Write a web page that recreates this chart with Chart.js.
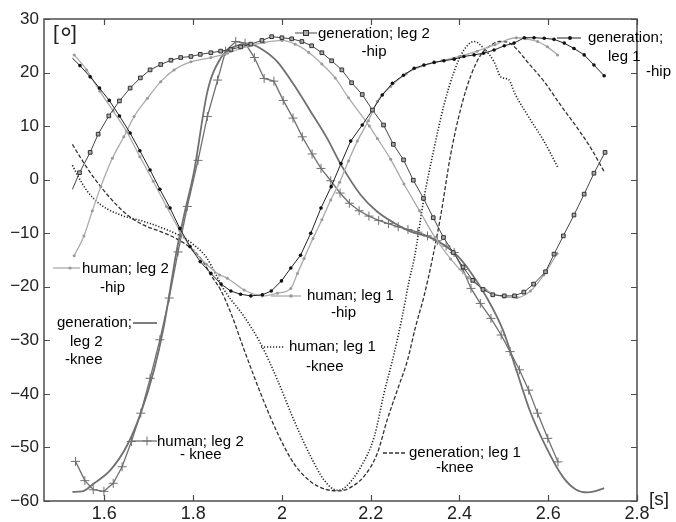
<!DOCTYPE html>
<html>
<head>
<meta charset="utf-8">
<title>Joint angles</title>
<script src="https://cdn.jsdelivr.net/npm/chart.js@4.4.1/dist/chart.umd.min.js"></script>
<style>
    html, body { margin: 0; padding: 0; background: #fff; }
</style>
</head>
<body>
<canvas id="jointChart" width="676" height="522"></canvas>
<script>
// Tick labels
const xTicks = [1.6, 1.8, 2.0, 2.2, 2.4, 2.6, 2.8];
const yTicks = [-60, -50, -40, -30, -20, -10, 0, 10, 20, 30];

// generation; leg 2 -hip (squares)
const genLeg2HipT = [1.528, 1.544, 1.568, 1.586, 1.610, 1.634, 1.658, 1.681, 1.703, 1.727, 1.750, 1.772, 1.795, 1.816, 1.840, 1.862, 1.885, 1.907, 1.930, 1.955, 1.977, 2.000, 2.022, 2.045, 2.067, 2.090, 2.112, 2.135, 2.157, 2.181, 2.204, 2.229, 2.251, 2.274, 2.296, 2.319, 2.341, 2.364, 2.386, 2.408, 2.430, 2.453, 2.475, 2.501, 2.524, 2.545, 2.567, 2.594, 2.613, 2.634, 2.658, 2.681, 2.703, 2.728];
const genLeg2HipV = [-1.8, 1.3, 5.1, 8.5, 11.9, 14.7, 17.1, 19.0, 20.5, 21.5, 22.3, 22.8, 23.0, 23.4, 23.7, 24.0, 24.3, 24.8, 25.3, 26.0, 26.7, 26.5, 26.3, 25.8, 25.0, 23.7, 22.2, 20.5, 18.1, 15.9, 13.0, 10.2, 6.6, 3.7, -0.1, -3.5, -7.1, -10.8, -13.6, -16.3, -18.8, -20.5, -21.5, -21.7, -21.7, -21.0, -19.5, -17.2, -13.9, -10.5, -6.6, -2.7, 1.2, 5.1];

// generation; leg 1 -hip (dots)
const genLeg1HipT = [1.528, 1.545, 1.568, 1.589, 1.611, 1.634, 1.658, 1.680, 1.703, 1.725, 1.748, 1.770, 1.793, 1.816, 1.840, 1.863, 1.885, 1.907, 1.930, 1.956, 1.976, 1.999, 2.020, 2.042, 2.065, 2.088, 2.111, 2.133, 2.155, 2.181, 2.204, 2.226, 2.249, 2.274, 2.298, 2.320, 2.343, 2.365, 2.388, 2.410, 2.433, 2.454, 2.478, 2.501, 2.523, 2.546, 2.568, 2.591, 2.613, 2.636, 2.658, 2.681, 2.703, 2.726];
const genLeg1HipV = [22.7, 21.3, 19.2, 17.1, 14.8, 11.9, 8.7, 5.4, 1.8, -1.8, -5.3, -9.1, -12.5, -15.3, -17.5, -19.5, -20.8, -21.4, -21.7, -21.5, -20.8, -18.9, -16.5, -14.1, -10.0, -5.3, -1.3, 3.0, 7.2, 10.2, 13.0, 15.8, 18.0, 19.5, 20.8, 21.4, 21.9, 22.2, 22.5, 23.0, 23.3, 23.6, 24.2, 25.0, 25.5, 26.5, 26.5, 26.4, 26.2, 25.5, 24.5, 23.3, 21.4, 19.4];

// human; leg 2 -hip
const humLeg2HipT = [1.532, 1.554, 1.573, 1.592, 1.618, 1.644, 1.667, 1.697, 1.727, 1.757, 1.795, 1.840, 1.877, 1.926, 1.960, 2.000, 2.030, 2.060, 2.090, 2.120, 2.150, 2.197, 2.215, 2.245, 2.275, 2.310, 2.345, 2.380, 2.420, 2.460, 2.500, 2.530, 2.560, 2.590, 2.620];
const humLeg2HipV = [-14.2, -10.5, -5.8, -1.3, 4.0, 8.0, 11.8, 15.2, 18.3, 20.5, 22.0, 22.8, 23.6, 25.0, 25.6, 26.0, 25.3, 23.8, 21.6, 19.0, 15.3, 10.0, 7.7, 3.8, -0.8, -5.8, -10.8, -14.8, -18.3, -20.6, -21.9, -22.0, -20.8, -17.8, -13.8];

// human; leg 1 -hip
const humLeg1HipT = [1.532, 1.560, 1.590, 1.620, 1.650, 1.680, 1.710, 1.740, 1.770, 1.800, 1.830, 1.860, 1.877, 1.915, 1.956, 1.990, 2.020, 2.035, 2.050, 2.070, 2.090, 2.110, 2.130, 2.150, 2.170, 2.195, 2.215, 2.245, 2.280, 2.320, 2.360, 2.400, 2.440, 2.480, 2.528, 2.550, 2.576, 2.598, 2.621];
const humLeg1HipV = [23.3, 20.5, 16.5, 12.8, 9.0, 4.3, -0.3, -5.0, -9.5, -13.2, -15.8, -17.8, -18.4, -20.6, -21.7, -21.2, -20.3, -17.5, -14.7, -11.0, -7.5, -3.8, -0.5, 3.5, 7.2, 11.0, 14.6, 17.4, 19.8, 21.3, 22.2, 23.0, 24.0, 25.2, 26.5, 26.3, 25.8, 24.8, 23.3];

// generation; leg 2 -knee
const genLeg2KneeT = [1.528, 1.550, 1.577, 1.614, 1.652, 1.682, 1.712, 1.734, 1.753, 1.761, 1.780, 1.802, 1.832, 1.862, 1.892, 1.926, 1.952, 1.990, 2.027, 2.065, 2.102, 2.133, 2.178, 2.215, 2.253, 2.290, 2.328, 2.365, 2.394, 2.422, 2.460, 2.498, 2.528, 2.558, 2.595, 2.633, 2.663, 2.688, 2.708, 2.726];
const genLeg2KneeV = [-58.3, -58.2, -56.7, -54.2, -49.5, -43.6, -35.5, -27.4, -18.1, -14.1, -6.5, 1.5, 16.4, 22.7, 24.8, 25.3, 24.5, 22.0, 17.7, 12.7, 7.7, 2.8, -2.9, -6.0, -8.1, -9.7, -10.6, -12.2, -14.1, -16.9, -21.8, -28.1, -35.5, -43.0, -49.9, -55.5, -57.9, -58.4, -58.1, -57.6];

// human; leg 2 -knee (crosses)
const humLeg2KneeT = [1.535, 1.556, 1.575, 1.599, 1.620, 1.640, 1.661, 1.682, 1.703, 1.725, 1.746, 1.766, 1.787, 1.811, 1.832, 1.855, 1.873, 1.896, 1.917, 1.938, 1.960, 1.982, 2.003, 2.025, 2.046, 2.068, 2.088, 2.110, 2.131, 2.152, 2.174, 2.196, 2.218, 2.240, 2.262, 2.284, 2.306, 2.328, 2.350, 2.370, 2.388, 2.408, 2.426, 2.447, 2.471, 2.494, 2.514, 2.535, 2.556, 2.576, 2.599, 2.622];
const humLeg2KneeV = [-52.6, -56.2, -57.9, -58.2, -56.7, -53.6, -48.9, -43.6, -37.1, -29.9, -22.1, -13.5, -5.0, 3.6, 11.8, 18.6, 24.0, 25.8, 25.5, 22.8, 18.9, 18.4, 14.8, 11.5, 8.0, 4.8, 2.1, -0.2, -2.5, -4.4, -5.8, -6.8, -7.6, -8.2, -8.8, -9.3, -9.8, -10.5, -11.4, -12.4, -13.6, -16.8, -20.3, -23.1, -25.9, -29.0, -32.1, -35.5, -39.3, -43.6, -48.3, -52.7];

// human; leg 1 -knee (dotted)
const humLeg1KneeT = [1.528, 1.539, 1.562, 1.592, 1.637, 1.689, 1.742, 1.780, 1.802, 1.830, 1.850, 1.870, 1.915, 1.952, 1.990, 2.027, 2.065, 2.095, 2.125, 2.140, 2.178, 2.208, 2.230, 2.253, 2.271, 2.287, 2.298, 2.320, 2.343, 2.365, 2.388, 2.410, 2.433, 2.455, 2.478, 2.493, 2.512, 2.523, 2.553, 2.591, 2.621];
const humLeg1KneeV = [2.7, 0.9, -2.2, -4.7, -6.6, -7.8, -9.4, -10.9, -12.2, -14.5, -17.5, -20.6, -25.6, -30.6, -37.4, -44.9, -51.7, -56.1, -58.0, -57.6, -53.6, -48.0, -39.9, -32.4, -25.6, -18.7, -14.8, -3.5, 5.9, 13.9, 20.2, 24.2, 25.8, 24.5, 22.0, 19.2, 18.6, 16.4, 12.1, 7.1, 2.4];

// generation; leg 1 -knee (dashed)
const genLeg1KneeT = [1.528, 1.547, 1.577, 1.614, 1.652, 1.689, 1.727, 1.764, 1.795, 1.820, 1.840, 1.862, 1.885, 1.915, 1.952, 1.990, 2.027, 2.065, 2.102, 2.132, 2.160, 2.185, 2.215, 2.237, 2.260, 2.283, 2.301, 2.320, 2.339, 2.358, 2.380, 2.403, 2.426, 2.448, 2.471, 2.490, 2.513, 2.530, 2.553, 2.591, 2.628, 2.666, 2.696, 2.726];
const genLeg1KneeV = [6.6, 4.0, 0.3, -3.5, -6.6, -8.5, -9.7, -11.1, -12.8, -15.0, -17.8, -20.6, -24.9, -31.8, -39.9, -47.3, -53.0, -56.4, -57.9, -58.1, -57.2, -55.4, -51.1, -44.9, -39.3, -33.7, -27.5, -21.8, -14.8, -6.6, 4.6, 13.3, 19.5, 23.3, 25.1, 25.8, 25.5, 24.3, 22.0, 18.3, 13.9, 9.6, 5.9, 1.5];

const toXY = (ts, vs) => ts.map((t, i) => ({ x: t, y: vs[i] }));

const FONT = 'Liberation Sans, Arial, sans-serif';

// Frame, inward ticks and the inline labels
const decorPlugin = {
    id: 'decor',
    afterDraw(chart) {
        const { ctx, chartArea: a, scales } = chart;
        ctx.save();

        // box
        ctx.strokeStyle = '#4d4d4d';
        ctx.lineWidth = 1.5;
        ctx.strokeRect(a.left, a.top, a.right - a.left, a.bottom - a.top);

        // inward ticks on all four sides
        ctx.lineWidth = 1.2;
        ctx.beginPath();
        xTicks.forEach(v => {
            const px = Math.round(scales.x.getPixelForValue(v)) + 0.5;
            ctx.moveTo(px, a.bottom); ctx.lineTo(px, a.bottom - 6);
            ctx.moveTo(px, a.top); ctx.lineTo(px, a.top + 6);
        });
        yTicks.forEach(v => {
            const py = Math.round(scales.y.getPixelForValue(v)) + 0.5;
            ctx.moveTo(a.left, py); ctx.lineTo(a.left + 6, py);
            ctx.moveTo(a.right, py); ctx.lineTo(a.right - 6, py);
        });
        ctx.stroke();

        // legend samples
        const sample = (x1, x2, y, color, width, dash) => {
            ctx.beginPath();
            ctx.strokeStyle = color;
            ctx.lineWidth = width;
            ctx.setLineDash(dash || []);
            ctx.moveTo(x1, y); ctx.lineTo(x2, y);
            ctx.stroke();
            ctx.setLineDash([]);
        };
        sample(295, 317, 33, '#444', 1);
        ctx.fillStyle = '#aaa'; ctx.strokeStyle = '#333'; ctx.lineWidth = 1;
        ctx.fillRect(303.5, 30.5, 5, 5); ctx.strokeRect(303.5, 30.5, 5, 5);

        sample(557, 581, 38, '#222', 1);
        ctx.fillStyle = '#111';
        ctx.beginPath(); ctx.arc(570, 38, 1.9, 0, Math.PI * 2); ctx.fill();

        sample(53, 80, 268, '#aaa', 1.3);
        ctx.fillStyle = '#999';
        ctx.beginPath(); ctx.arc(70, 268, 1.6, 0, Math.PI * 2); ctx.fill();

        sample(133, 157, 323, '#707070', 1.8);

        sample(271, 301, 296, '#aaa', 1.3);
        ctx.fillStyle = '#999';
        ctx.beginPath(); ctx.arc(291, 296, 1.8, 0, Math.PI * 2); ctx.fill();

        sample(261, 284, 347, '#222', 1.6, [1.2, 1.8]);

        sample(132, 157, 441, '#707070', 1.3);
        ctx.beginPath(); ctx.strokeStyle = '#707070'; ctx.lineWidth = 1;
        ctx.moveTo(142.5, 441); ctx.lineTo(151.5, 441); ctx.moveTo(147, 436.5); ctx.lineTo(147, 445.5);
        ctx.stroke();

        sample(383, 406, 453, '#333', 1.3, [4, 2]);

        // texts
        ctx.fillStyle = '#000';
        ctx.textBaseline = 'middle';
        ctx.font = '15px ' + FONT;
        const txt = (s, x, y, align) => { ctx.textAlign = align || 'left'; ctx.fillText(s, x, y); };
        txt('generation; leg 2', 318, 34);
        txt('-hip', 374, 52, 'center');
        txt('generation;', 588, 38);
        txt('leg 1', 608, 57);
        txt('-hip', 646, 72);
        txt('human; leg 2', 82, 269);
        txt('-hip', 100, 288);
        txt('generation;', 132, 323, 'right');
        txt('leg 2', 70, 342);
        txt('-knee', 65, 360);
        txt('human; leg 1', 307, 296);
        txt('-hip', 331, 313);
        txt('human; leg 1', 289, 347);
        txt('-knee', 306, 367);
        txt('human; leg 2', 157, 442);
        txt('- knee', 180, 455);
        txt('generation; leg 1', 409, 453);
        txt('-knee', 436, 468);

        // unit labels
        ctx.fillStyle = '#222';
        ctx.font = '21px ' + FONT;
        txt('[', 53, 34);
        txt(']', 71, 34);
        ctx.font = '30px ' + FONT;
        txt('°', 60, 40);
        ctx.font = '19px ' + FONT;
        txt('[s]', 649, 500);

        ctx.restore();
    }
};

const ctx = document.getElementById('jointChart');
const chart = new Chart(ctx, {
    type: 'line',
    data: {
        datasets: [
            {
                label: 'generation; leg 2 -hip',
                data: toXY(genLeg2HipT, genLeg2HipV),
                borderColor: '#444', borderWidth: 1,
                pointStyle: 'rect', pointRadius: genLeg2HipT.map((t, i) => i === 0 ? 0 : 2.6),
                pointBackgroundColor: '#aaa', pointBorderColor: '#333', pointBorderWidth: 1
            },
            {
                label: 'generation; leg 1 -hip',
                data: toXY(genLeg1HipT, genLeg1HipV),
                borderColor: '#222', borderWidth: 1,
                pointStyle: 'circle', pointRadius: genLeg1HipT.map((t, i) => i === 0 ? 0 : 1.8),
                pointBackgroundColor: '#111', pointBorderColor: '#111', pointBorderWidth: 0
            },
            {
                label: 'human; leg 2 -hip',
                data: toXY(humLeg2HipT, humLeg2HipV),
                borderColor: '#aaa', borderWidth: 1.3,
                cubicInterpolationMode: 'monotone',
                pointRadius: 1.5, pointBackgroundColor: '#999', pointBorderWidth: 0
            },
            {
                label: 'human; leg 1 -hip',
                data: toXY(humLeg1HipT, humLeg1HipV),
                borderColor: '#aaa', borderWidth: 1.3,
                cubicInterpolationMode: 'monotone',
                pointRadius: 1.5, pointBackgroundColor: '#999', pointBorderWidth: 0
            },
            {
                label: 'generation; leg 2 -knee',
                data: toXY(genLeg2KneeT, genLeg2KneeV),
                borderColor: '#707070', borderWidth: 1.8,
                cubicInterpolationMode: 'monotone',
                pointRadius: 0
            },
            {
                label: 'human; leg 2 -knee',
                data: toXY(humLeg2KneeT, humLeg2KneeV),
                borderColor: '#707070', borderWidth: 1.3,
                pointStyle: 'cross', pointRadius: 4.5,
                pointBorderColor: '#707070', pointBorderWidth: 1
            },
            {
                label: 'human; leg 1 -knee',
                data: toXY(humLeg1KneeT, humLeg1KneeV),
                borderColor: '#222', borderWidth: 1.6, borderDash: [1.2, 1.8],
                cubicInterpolationMode: 'monotone',
                pointRadius: 0
            },
            {
                label: 'generation; leg 1 -knee',
                data: toXY(genLeg1KneeT, genLeg1KneeV),
                borderColor: '#333', borderWidth: 1.3, borderDash: [4, 2],
                cubicInterpolationMode: 'monotone',
                pointRadius: 0
            }
        ]
    },
    options: {
        responsive: false,
        animation: false,
        layout: { padding: { top: 19, right: 39, left: 0, bottom: 0 } },
        plugins: {
            legend: { display: false },
            tooltip: { enabled: false }
        },
        scales: {
            x: {
                type: 'linear',
                min: 1.464,
                max: 2.8,
                grid: { display: false, drawTicks: false },
                border: { display: false },
                afterBuildTicks: s => { s.ticks = xTicks.map(v => ({ value: v })); },
                afterFit: s => { s.height = 21; },
                ticks: {
                    padding: 2,
                    color: '#222',
                    font: { family: FONT, size: 18 },
                    maxRotation: 0,
                    callback: v => String(+Number(v).toFixed(1))
                }
            },
            y: {
                min: -60,
                max: 30,
                grid: { display: false, drawTicks: false },
                border: { display: false },
                afterBuildTicks: s => { s.ticks = yTicks.map(v => ({ value: v })); },
                afterFit: s => { s.width = 44; },
                ticks: {
                    padding: 5,
                    color: '#222',
                    font: { family: FONT, size: 17 },
                    callback: v => String(v).replace('-', '\u2212')
                }
            }
        }
    },
    plugins: [decorPlugin]
});
</script>
</body>
</html>
